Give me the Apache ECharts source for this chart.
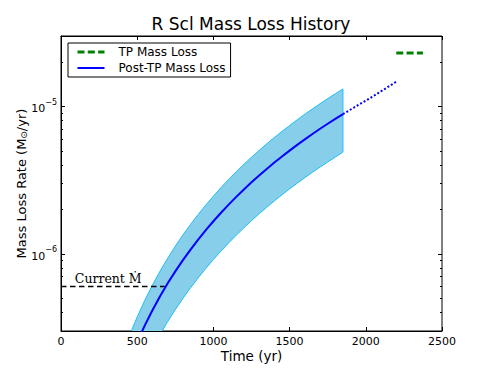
<!DOCTYPE html>
<html>
  <head>
    <meta charset="utf-8" />
    <title>R Scl Mass Loss History</title>
    <style>
      html,
      body {
        height: 100%;
        margin: 0;
        padding: 0;
        background: #fff;
      }
      #chart-container {
        width: 491px;
        height: 368px;
      }
    </style>
    <script src="https://cdn.jsdelivr.net/npm/echarts@6/dist/echarts.min.js"></script>
  </head>
  <body>
    <div id="chart-container"></div>

    <script>
      // 时间网格 (yr) 与质量损失率 (Msun/yr)，数值读自原图
      var bandT = [450, 500, 550, 600, 650, 700, 750, 800, 850, 900, 950, 1000, 1050, 1100, 1150, 1200, 1250, 1300, 1350, 1400, 1450, 1500, 1550, 1600, 1650, 1700, 1750, 1800, 1850];
      var bandUpper = [2.81e-7, 3.74e-7, 4.85e-7, 6.14e-7, 7.64e-7, 9.34e-7, 1.127e-6, 1.343e-6, 1.584e-6, 1.85e-6, 2.143e-6, 2.463e-6, 2.813e-6, 3.194e-6, 3.602e-6, 4.045e-6, 4.521e-6, 5.031e-6, 5.574e-6, 6.154e-6, 6.768e-6, 7.422e-6, 8.113e-6, 8.846e-6, 9.62e-6, 1.043e-5, 1.129e-5, 1.219e-5, 1.313e-5];
      var bandLower = [1.043e-7, 1.39e-7, 1.801e-7, 2.281e-7, 2.837e-7, 3.473e-7, 4.187e-7, 4.991e-7, 5.885e-7, 6.875e-7, 7.964e-7, 9.152e-7, 1.046e-6, 1.187e-6, 1.339e-6, 1.503e-6, 1.68e-6, 1.869e-6, 2.071e-6, 2.287e-6, 2.515e-6, 2.758e-6, 3.015e-6, 3.287e-6, 3.575e-6, 3.878e-6, 4.195e-6, 4.529e-6, 4.9e-6];
      var postRate = [1.897e-7, 2.527e-7, 3.275e-7, 4.148e-7, 5.159e-7, 6.314e-7, 7.612e-7, 9.075e-7, 1.07e-6, 1.25e-6, 1.448e-6, 1.664e-6, 1.901e-6, 2.158e-6, 2.434e-6, 2.733e-6, 3.055e-6, 3.399e-6, 3.766e-6, 4.158e-6, 4.573e-6, 5.015e-6, 5.482e-6, 5.977e-6, 6.5e-6, 7.05e-6, 7.628e-6, 8.234e-6, 8.87e-6];

      // 虚线外推部分
      var extT = [1850, 2030, 2205];
      var extRate = [8.87e-6, 1.14e-5, 1.48e-5];

      // TP 质量损失
      var tpT = [2200, 2375];
      var tpRate = [2.3e-5, 2.3e-5];

      // 当前质量损失率
      var currentT = [0, 680];
      var currentRate = [6.0e-7, 6.0e-7];

      // 坐标轴刻度
      var yMajorTicks = [1e-6, 1e-5];
      var yMinorTicks = [4e-7, 5e-7, 6e-7, 7e-7, 8e-7, 9e-7, 2e-6, 3e-6, 4e-6, 5e-6, 6e-6, 7e-6, 8e-6, 9e-6, 2e-5, 3e-5];

      var FONT = "DejaVu Sans";

      function zip(xs, ys) {
        return xs.map(function (x, i) {
          return [x, ys[i]];
        });
      }

      var myChart = echarts.init(document.getElementById("chart-container"), null, {
        renderer: "svg",
      });

      var logAxisBase = {
        type: "log",
        logBase: 10,
        min: 3e-7,
        max: 3e-5,
        splitLine: { show: false },
        axisLine: { show: false },
      };

      // 左右两侧的主/次刻度
      function yAxisFor(position, ticks, len, labels) {
        var ax = Object.assign({}, logAxisBase, {
          position: position,
          axisTick: {
            show: true,
            inside: true,
            length: len,
            customValues: ticks,
            lineStyle: { color: "#000", width: 1 },
          },
          axisLabel: { show: false },
        });
        if (labels) {
          ax.axisLine = { show: true, lineStyle: { color: "#000", width: 1 } };
          ax.axisLabel = {
            show: true,
            customValues: ticks,
            margin: 4,
            formatter: function (v) {
              var e = Math.round(Math.log10(v));
              return "{b|10}{s|" + (e < 0 ? "\u2212" : "") + Math.abs(e) + "}";
            },
            rich: {
              b: { fontSize: 11, fontFamily: FONT, color: "#000", verticalAlign: "bottom", lineHeight: 16 },
              s: { fontSize: 8, fontFamily: FONT, color: "#000", verticalAlign: "top", lineHeight: 16 },
            },
          };
          ax.name = "Mass Loss Rate (M{sub|\u2299}/yr)";
          ax.nameLocation = "middle";
          ax.nameGap = 33;
          ax.nameRotate = 90;
          ax.nameMoveOverlap = false;
          ax.nameTextStyle = {
            fontSize: 13,
            fontFamily: FONT,
            color: "#000",
            rich: {
              sub: { fontSize: 9, fontFamily: FONT, color: "#000", verticalAlign: "bottom", padding: [4, 0, 0, 0] },
            },
          };
        }
        return ax;
      }

      var option = {
        animation: false,
        backgroundColor: "#fff",
        title: {
          text: "R Scl Mass Loss History",
          left: 251,
          top: 15,
          padding: 0,
          textAlign: "center",
          textStyle: { fontSize: 17, fontWeight: "normal", fontFamily: FONT, color: "#000" },
        },
        legend: {
          orient: "vertical",
          left: 68,
          top: 43,
          padding: [3, 5, 3, 8],
          itemWidth: 27,
          itemHeight: 14,
          itemGap: 4,
          borderColor: "#000",
          borderWidth: 1,
          borderRadius: 0,
          backgroundColor: "#fff",
          itemStyle: { opacity: 0 },
          formatter: function (name) {
            return "{g|\u00a0}" + name;
          },
          textStyle: {
            fontSize: 12,
            fontFamily: FONT,
            color: "#000",
            rich: { g: { width: 9, fontSize: 12 } },
          },
          data: [
            { name: "TP Mass Loss", lineStyle: { width: 3, type: [7, 3.3], color: "#008000" } },
            { name: "Post-TP Mass Loss", lineStyle: { width: 2, color: "#0000ff" } },
          ],
        },
        grid: {
          left: 61,
          right: 49,
          top: 36,
          bottom: 37,
          show: true,
          borderColor: "#000",
          borderWidth: 1,
          outerBoundsMode: "none",
        },
        xAxis: [
          {
            type: "value",
            min: 0,
            max: 2500,
            interval: 500,
            position: "bottom",
            splitLine: { show: false },
            axisLine: { show: true, lineStyle: { color: "#000", width: 1 } },
            axisTick: { inside: true, length: 4, lineStyle: { color: "#000" } },
            axisLabel: {
              margin: 5,
              fontSize: 11,
              fontFamily: FONT,
              color: "#000",
              formatter: function (v) {
                return String(v);
              },
            },
            name: "Time (yr)",
            nameLocation: "middle",
            nameGap: 18,
            nameMoveOverlap: false,
            nameTextStyle: { fontSize: 13.5, fontFamily: FONT, color: "#000" },
          },
          {
            type: "value",
            min: 0,
            max: 2500,
            interval: 500,
            position: "top",
            splitLine: { show: false },
            axisLine: { show: true, lineStyle: { color: "#000", width: 1 } },
            axisTick: { inside: true, length: 4, lineStyle: { color: "#000" } },
            axisLabel: { show: false },
          },
        ],
        yAxis: [
          yAxisFor("left", yMajorTicks, 4, true),
          yAxisFor("left", yMinorTicks, 2, false),
          yAxisFor("right", yMajorTicks, 4, false),
          yAxisFor("right", yMinorTicks, 2, false),
        ],
        series: [
          {
            // 误差带
            name: "band",
            type: "custom",
            clip: true,
            z: 1,
            data: [0],
            renderItem: function (params, api) {
              var pts = [];
              for (var i = 0; i < bandT.length; i++) pts.push(api.coord([bandT[i], bandUpper[i]]));
              for (var j = bandT.length - 1; j >= 0; j--) pts.push(api.coord([bandT[j], bandLower[j]]));
              return {
                type: "polygon",
                shape: { points: pts },
                style: { fill: "#87ceeb", stroke: "#1cbff5", lineWidth: 1 },
              };
            },
          },
          {
            name: "Current",
            type: "line",
            z: 3,
            symbol: "none",
            data: zip(currentT, currentRate),
            lineStyle: { color: "#000", width: 1.5, type: [5.5, 3.5] },
            markPoint: {
              symbol: "circle",
              symbolSize: 0,
              data: [{ coord: [310, 6.0e-7] }],
              label: {
                show: true,
                position: "top",
                distance: 2,
                formatter: "Current M\u0307",
                fontSize: 12.5,
                fontFamily: "DejaVu Serif",
                color: "#000",
              },
            },
          },
          {
            name: "Post-TP Mass Loss",
            type: "line",
            z: 4,
            symbol: "none",
            data: zip(bandT, postRate),
            lineStyle: { color: "#0000ff", width: 2 },
          },
          {
            name: "Extrapolation",
            type: "line",
            z: 4,
            symbol: "none",
            data: zip(extT, extRate),
            lineStyle: { color: "#0000ff", width: 2, type: "dotted" },
          },
          {
            name: "TP Mass Loss",
            type: "line",
            z: 4,
            symbol: "none",
            data: zip(tpT, tpRate),
            lineStyle: { color: "#008000", width: 3, type: [7, 3.3] },
          },
        ],
      };

      myChart.setOption(option);
    </script>
  </body>
</html>
